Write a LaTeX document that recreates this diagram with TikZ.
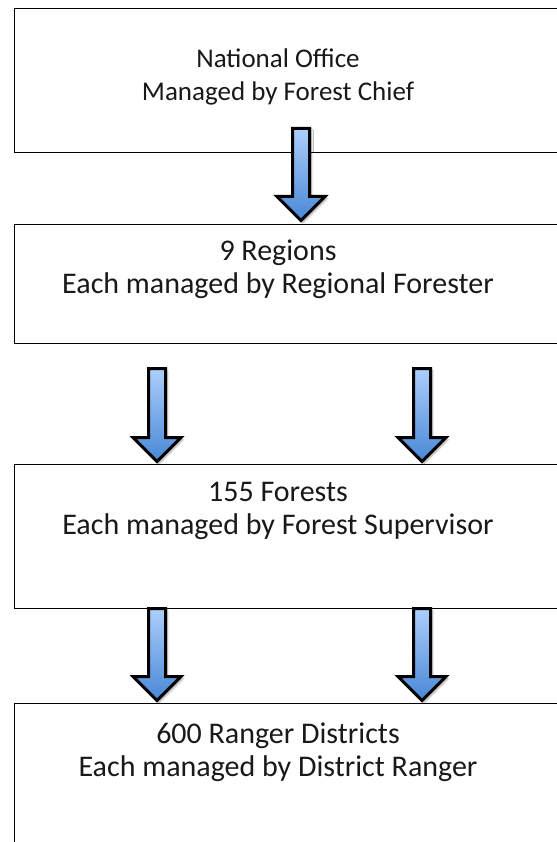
\documentclass[tikz,border=0pt]{standalone}
\usepackage{fontspec}
\setmainfont{Carlito}
\usetikzlibrary{shadows.blur}
\newcommand\blkarrow[4]{%
  \path[blockarrow] ({#1-8.5},#2) -- ({#1+8.5},#2) -- ({#1+8.5},#3) -- ({#1+24},#3)
    -- (#1,#4) -- ({#1-24},#3) -- ({#1-8.5},#3) -- cycle;}
\begin{document}
\begin{tikzpicture}[x=1pt,y=-1pt,
  boxstyle/.style={draw=black,line width=1.4pt,fill=white,anchor=north west,inner sep=0},
  lbl/.style={align=center,font=\fontsize{27}{33}\selectfont,inner sep=0,text=black!90},
  lblb/.style={lbl,font=\fontsize{30}{33}\selectfont},
  blockarrow/.style={draw=black,line width=3pt,miter limit=10,
    top color={rgb,255:red,172;green,206;blue,252},
    bottom color={rgb,255:red,72;green,136;blue,214},
    blur shadow={shadow xshift=2pt,shadow yshift=-2pt,shadow blur steps=6,shadow opacity=35}}]
\useasboundingbox (0,0) rectangle (556,842);
\node[boxstyle,minimum width=600pt,minimum height=144pt] (b1) at (14,8) {};
\node[boxstyle,minimum width=600pt,minimum height=119pt] (b2) at (14,224) {};
\node[boxstyle,minimum width=600pt,minimum height=144pt] (b3) at (14,464) {};
\node[boxstyle,minimum width=600pt,minimum height=200pt] (b4) at (14,703) {};
\node[lbl] (t1) at (278,76.5) {National Office\\Managed by Forest Chief};
\node[lblb] (t2) at (278,269) {9 Regions\\Each managed by Regional Forester};
\node[lblb] (t3) at (278,511) {155 Forests\\Each managed by Forest Supervisor};
\node[lblb] (t4) at (278,752) {600 Ranger Districts\\Each managed by District Ranger};
\blkarrow{301}{128.5}{196.5}{220.5}
\blkarrow{157}{368.5}{437.5}{461.5}
\blkarrow{422}{368.5}{437.5}{461.5}
\blkarrow{157}{608.5}{676.5}{700.5}
\blkarrow{422}{608.5}{676.5}{700.5}
\end{tikzpicture}
\end{document}
